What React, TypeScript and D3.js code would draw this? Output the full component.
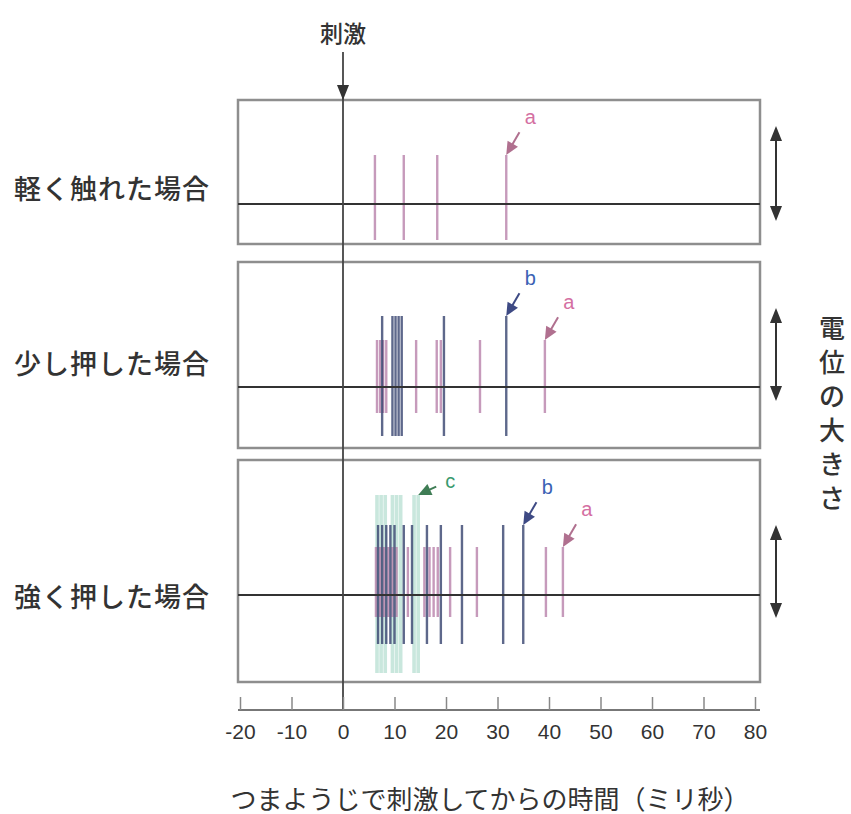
import * as React from "react";
import * as d3 from "d3";

const panelLabels = ["軽く触れた場合", "少し押した場合", "強く押した場合"];
const xTicks = [-20, -10, 0, 10, 20, 30, 40, 50, 60, 70, 80];
const xTitle = "つまようじで刺激してからの時間（ミリ秒）";
const yTitle = "電位の大きさ";
const stimLabel = "刺激";

// spike times (ms after the stimulus), one list per panel
const spikesA = [
  [6.2, 11.8, 18.3, 31.7],
  [6.6, 7.2, 7.8, 8.4, 14.2, 18.2, 19.0, 26.6, 39.2],
  [6.4, 7.2, 8.0, 8.8, 9.6, 10.4, 12.6, 15.8, 16.8, 17.6, 18.4, 20.8, 26.0, 39.4, 42.7],
];
const spikesB = [
  [],
  [7.6, 9.6, 10.2, 10.8, 11.4, 19.6, 31.7],
  [6.8, 7.6, 8.4, 9.2, 10.0, 11.8, 13.4, 16.3, 19.0, 23.1, 31.1, 35.0],
];
const spikesC = [[], [], [6.6, 7.4, 8.2, 9.6, 10.4, 11.2, 13.8, 14.6]];

// spike height above / below the baseline
const peakA = [49, 47, 48];
const troughA = [36, 26, 22];
const peakB = [0, 71, 70];
const troughB = [0, 49, 49];
const peakC = [0, 0, 100];
const troughC = [0, 0, 78];

// which spike each letter points to
const pointers = [
  { panel: 0, neuron: "a", t: 31.7 },
  { panel: 1, neuron: "b", t: 31.7 },
  { panel: 1, neuron: "a", t: 39.2 },
  { panel: 2, neuron: "c", t: 14.6 },
  { panel: 2, neuron: "b", t: 35.0 },
  { panel: 2, neuron: "a", t: 42.7 },
];

function drawChart(svgRef) {
  const svg = d3.select(svgRef.current);
  svg.selectAll("*").remove();

  const width = 851;
  const height = 814;
  const boxLeft = 238;
  const boxRight = 760;
  const axisY = 710;
  const jp = '"Noto Sans CJK JP", "Noto Sans", sans-serif';

  const panels = [
    { top: 100, bottom: 244, base: 204, labelY: 187, arrTop: 126, arrBottom: 221 },
    { top: 262, bottom: 448, base: 387, labelY: 362, arrTop: 308, arrBottom: 401 },
    { top: 460, bottom: 682, base: 595, labelY: 595, arrTop: 525, arrBottom: 618 },
  ];

  const neurons = {
    a: { times: spikesA, peak: peakA, trough: troughA, color: "#b982ab", width: 2.4, opacity: 0.8, label: "#d46fa2", arrow: "#b0708f" },
    b: { times: spikesB, peak: peakB, trough: troughB, color: "#36436f", width: 2.4, opacity: 0.8, label: "#3b62b4", arrow: "#3e4a84" },
    c: { times: spikesC, peak: peakC, trough: troughC, color: "#a6d8c8", width: 3.6, opacity: 0.6, label: "#3a9a6e", arrow: "#3f7d55" },
  };

  const xScale = d3.scaleLinear().domain([-20, 80]).range([240, 755]);

  svg.attr("width", width).attr("height", height);
  svg.append("rect").attr("width", width).attr("height", height).attr("fill", "#fff");

  panels.forEach((p, i) => {
    const yScale = d3
      .scaleLinear()
      .domain([-100, 100])
      .range([p.base + 100, p.base - 100]);

    const g = svg.append("g");

    g.append("rect")
      .attr("x", boxLeft)
      .attr("y", p.top)
      .attr("width", boxRight - boxLeft)
      .attr("height", p.bottom - p.top)
      .attr("fill", "none")
      .attr("stroke", "#8e8e8e")
      .attr("stroke-width", 2.5);

    // spikes, light neuron first so darker ones sit on top
    ["c", "a", "b"].forEach((key) => {
      const n = neurons[key];
      g.append("g")
        .selectAll("line")
        .data(n.times[i])
        .enter()
        .append("line")
        .attr("x1", (d) => xScale(d))
        .attr("x2", (d) => xScale(d))
        .attr("y1", yScale(n.peak[i]))
        .attr("y2", yScale(-n.trough[i]))
        .attr("stroke", n.color)
        .attr("stroke-width", n.width)
        .attr("opacity", n.opacity);
    });

    g.append("line")
      .attr("x1", boxLeft)
      .attr("x2", boxRight)
      .attr("y1", p.base)
      .attr("y2", p.base)
      .attr("stroke", "#333")
      .attr("stroke-width", 2);

    g.append("text")
      .attr("x", 14)
      .attr("y", p.labelY)
      .attr("dominant-baseline", "central")
      .attr("font-family", jp)
      .attr("font-size", 27)
      .attr("font-weight", 500)
      .attr("letter-spacing", 1)
      .attr("fill", "#333")
      .text(panelLabels[i]);

    // double-headed scale arrow on the right
    const ax = 776;
    g.append("line")
      .attr("x1", ax)
      .attr("x2", ax)
      .attr("y1", p.arrTop + 10)
      .attr("y2", p.arrBottom - 10)
      .attr("stroke", "#333")
      .attr("stroke-width", 2);
    g.append("path")
      .attr("d", `M${ax},${p.arrTop} L${ax - 6},${p.arrTop + 15} L${ax + 6},${p.arrTop + 15} Z`)
      .attr("fill", "#333");
    g.append("path")
      .attr("d", `M${ax},${p.arrBottom} L${ax - 6},${p.arrBottom - 15} L${ax + 6},${p.arrBottom - 15} Z`)
      .attr("fill", "#333");
  });

  // pointer letters
  pointers.forEach((ptr) => {
    const p = panels[ptr.panel];
    const n = neurons[ptr.neuron];
    const tipX = xScale(ptr.t);
    const tipY = p.base - n.peak[ptr.panel];
    const dx = ptr.neuron === "c" ? 30 : 22;
    const dy = ptr.neuron === "c" ? -14 : -38;
    const ang = Math.atan2(dy, dx);
    const len = Math.hypot(dx, dy) * 0.6;
    const ex = tipX + Math.cos(ang) * len;
    const ey = tipY + Math.sin(ang) * len;
    svg.append("line")
      .attr("x1", tipX + Math.cos(ang) * 6)
      .attr("y1", tipY + Math.sin(ang) * 6)
      .attr("x2", ex)
      .attr("y2", ey)
      .attr("stroke", n.arrow)
      .attr("stroke-width", 2);
    const hl = 13;
    const hw = 6;
    const bx = tipX + Math.cos(ang) * hl;
    const by = tipY + Math.sin(ang) * hl;
    const px = -Math.sin(ang) * hw;
    const py = Math.cos(ang) * hw;
    svg.append("path")
      .attr("d", `M${tipX},${tipY} L${bx + px},${by + py} L${bx - px},${by - py} Z`)
      .attr("fill", n.arrow);
    svg.append("text")
      .attr("x", tipX + dx + 2)
      .attr("y", tipY + dy)
      .attr("text-anchor", "middle")
      .attr("dominant-baseline", "central")
      .attr("font-family", '"Liberation Sans", Arial, sans-serif')
      .attr("font-size", 20)
      .attr("fill", n.label)
      .text(ptr.neuron);
  });

  // stimulus marker and time-zero line
  const x0 = xScale(0);
  svg.append("line")
    .attr("x1", x0)
    .attr("x2", x0)
    .attr("y1", 52)
    .attr("y2", axisY)
    .attr("stroke", "#444")
    .attr("stroke-width", 1.8);
  svg.append("path")
    .attr("d", `M${x0},${100} L${x0 - 6},${85} L${x0 + 6},${85} Z`)
    .attr("fill", "#333");
  svg.append("text")
    .attr("x", x0)
    .attr("y", 32)
    .attr("text-anchor", "middle")
    .attr("dominant-baseline", "central")
    .attr("font-family", jp)
    .attr("font-size", 23)
    .attr("font-weight", 500)
    .attr("fill", "#333")
    .text(stimLabel);

  // time axis
  const xAxis = d3
    .axisBottom(xScale)
    .tickValues(xTicks)
    .tickSize(-13)
    .tickSizeOuter(0)
    .tickPadding(14)
    .tickFormat((d) => `${d}`);

  const axisG = svg
    .append("g")
    .attr("transform", `translate(0, ${axisY})`)
    .call(xAxis);
  axisG.attr("font-size", 21).attr("font-family", '"Liberation Sans", Arial, sans-serif');
  axisG.select(".domain").attr("stroke", "#777").attr("stroke-width", 2).attr("d", `M${boxLeft},0H${boxRight}`);
  axisG.selectAll(".tick line").attr("stroke", "#888").attr("stroke-width", 1.5);
  axisG.selectAll(".tick text").attr("fill", "#333").style("font-size", "21px");

  svg.append("text")
    .attr("x", 490)
    .attr("y", 797)
    .attr("text-anchor", "middle")
    .attr("dominant-baseline", "central")
    .attr("font-family", jp)
    .attr("font-size", 26)
    .attr("fill", "#333")
    .text(xTitle);

  // vertical title on the right
  svg.append("g")
    .selectAll("text")
    .data(Array.from(yTitle))
    .enter()
    .append("text")
    .attr("x", 832)
    .attr("y", (d, i) => 326 + i * 34)
    .attr("text-anchor", "middle")
    .attr("dominant-baseline", "central")
    .attr("font-family", jp)
    .attr("font-size", 26)
    .attr("font-weight", 500)
    .attr("fill", "#333")
    .text((d) => d);
}

const App = () => {
  const svg = React.useRef(null);
  React.useEffect(() => {
    drawChart(svg);
  }, [svg]);

  return <svg ref={svg} style={{ position: "absolute", left: 0, top: 0 }} />;
};

export default App;
